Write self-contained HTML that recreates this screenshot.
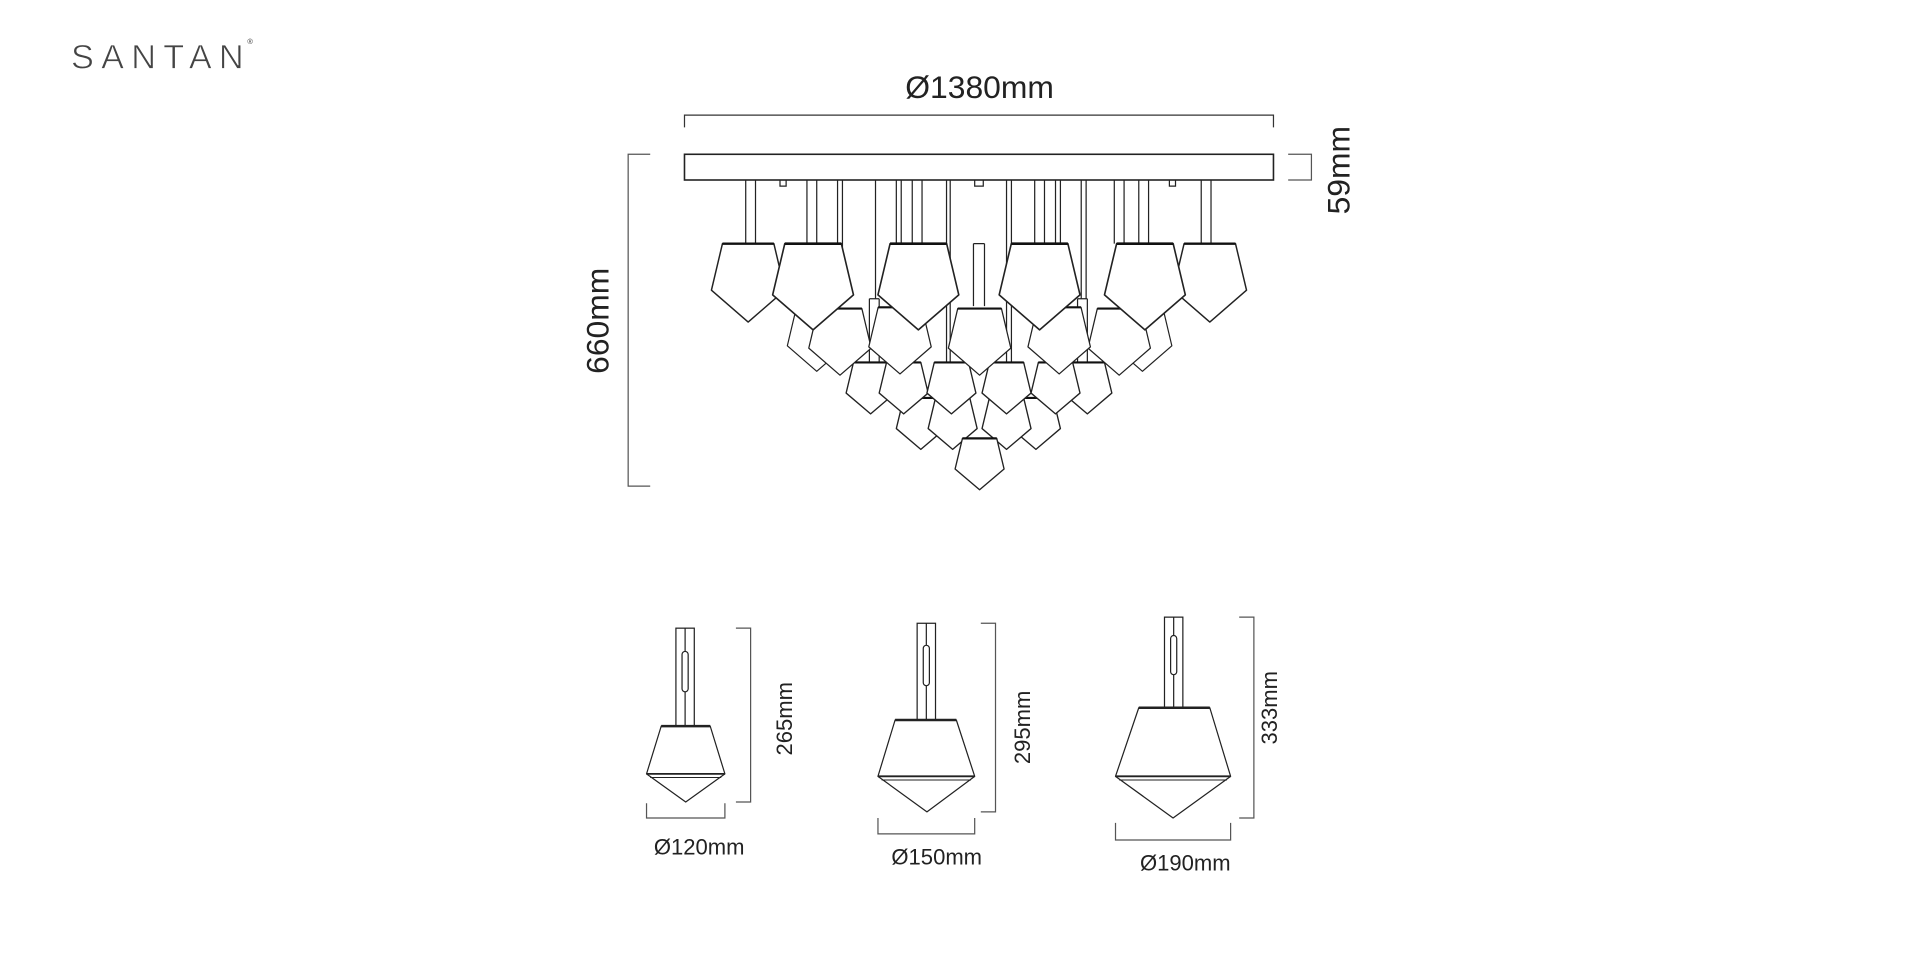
<!DOCTYPE html>
<html><head><meta charset="utf-8"><style>
html,body{margin:0;padding:0;background:#fff;width:1920px;height:960px;overflow:hidden}
svg{display:block}
text{font-family:"Liberation Sans",sans-serif;fill:#222}
</style></head><body>
<svg width="1920" height="960" viewBox="0 0 1568 784" xmlns="http://www.w3.org/2000/svg">
<defs>
<g id="pb"><path d="M-21,0 L21,0 L30,38 L0,64 L-30,38 Z" fill="#fff" stroke="#222" stroke-width="1.2" stroke-linejoin="round"/><line x1="-21" y1="0" x2="21" y2="0" stroke="#111" stroke-width="2"/></g>
<g id="ps"><path d="M-14,0 L14,0 L20,25 L0,42 L-20,25 Z" fill="#fff" stroke="#222" stroke-width="1.1" stroke-linejoin="round"/><line x1="-14" y1="0" x2="14" y2="0" stroke="#111" stroke-width="1.8"/></g>
</defs>
<text x="58" y="56" font-size="28" style="letter-spacing:1px;fill:#444;stroke:#fff;stroke-width:0.6" textLength="142">SANTAN</text>
<text x="202" y="36" font-size="6" style="fill:#333">®</text>

<text x="800" y="80" font-size="26" text-anchor="middle">Ø1380mm</text>
<path d="M559,104 V94 H1040 V104" fill="none" stroke="#333" stroke-width="1"/>
<path d="M1052,126 H1071 V147 H1052" fill="none" stroke="#555" stroke-width="1"/>
<text transform="translate(1102,139) rotate(-90)" font-size="26" text-anchor="middle">59mm</text>
<path d="M531,126 H513 V397 H531" fill="none" stroke="#555" stroke-width="1"/>
<text transform="translate(497,262) rotate(-90)" font-size="26" text-anchor="middle">660mm</text>

<g stroke="#222" stroke-width="1" fill="none">
<path d="M609,147V199M617,147V199M659,147V199M667,147V199M684,147V240M688,147V240M715,147V244M732,147V199M736,147V199M745,147V199M753,147V199M773,147V296M776,147V296M822,147V296M826,147V296M845,147V199M853,147V199M862,147V199M866,147V199M883,147V244M887,147V244M910,147V199M918,147V199M930,147V199M938,147V199M981,147V199M989,147V199M637,147V152H642V147M955,147V152H960V147M796,147V152H803V147"/>
<path d="M795,199V250M804,199V250M795,199H804"/>
<path d="M710,244V296M718,244V296M710,244H718M880,244V296M888,244V296M880,244H888"/>
</g>
<rect x="559" y="126" width="481" height="21" fill="#fff" stroke="#222" stroke-width="1.3"/>

<use href="#pb" transform="translate(667,252) scale(0.8)"/>
<use href="#pb" transform="translate(933,252) scale(0.8)"/>
<use href="#ps" transform="translate(752,325)"/>
<use href="#ps" transform="translate(846,325)"/>
<use href="#ps" transform="translate(778,325)"/>
<use href="#ps" transform="translate(822,325)"/>
<use href="#ps" transform="translate(800,358)"/>
<use href="#ps" transform="translate(711,296)"/>
<use href="#ps" transform="translate(888,296)"/>
<use href="#ps" transform="translate(738,296)"/>
<use href="#ps" transform="translate(862,296)"/>
<use href="#ps" transform="translate(777,296)"/>
<use href="#ps" transform="translate(822,296)"/>
<use href="#pb" transform="translate(686,252) scale(0.85)"/>
<use href="#pb" transform="translate(914,252) scale(0.85)"/>
<use href="#pb" transform="translate(735,251) scale(0.85)"/>
<use href="#pb" transform="translate(865,251) scale(0.85)"/>
<use href="#pb" transform="translate(800,252) scale(0.85)"/>
<use href="#pb" transform="translate(611,199)"/>
<use href="#pb" transform="translate(988,199)"/>
<use href="#pb" transform="translate(664,199) scale(1.1)"/>
<use href="#pb" transform="translate(750,199) scale(1.1)"/>
<use href="#pb" transform="translate(849,199) scale(1.1)"/>
<use href="#pb" transform="translate(935,199) scale(1.1)"/>

<g stroke="#222" stroke-width="1" fill="#fff">
<rect x="552" y="513" width="15" height="80"/><line x1="559.5" y1="513" x2="559.5" y2="593"/><rect x="557" y="532" width="5" height="33" rx="2.5"/>
<path d="M540,593 H580 L592,632 L560,655 L528,632 Z" stroke-linejoin="round"/><line x1="540" y1="593" x2="580" y2="593" stroke-width="2"/><line x1="528" y1="632" x2="592" y2="632" stroke-width="1.5"/><line x1="531" y1="635" x2="589" y2="635" stroke-width="0.8"/>

<rect x="749" y="509" width="15" height="79"/><line x1="756.5" y1="509" x2="756.5" y2="588"/><rect x="754" y="527" width="5" height="33" rx="2.5"/>
<path d="M731,588 H781 L796,634 L757,663 L717,634 Z" stroke-linejoin="round"/><line x1="731" y1="588" x2="781" y2="588" stroke-width="2"/><line x1="717" y1="634" x2="796" y2="634" stroke-width="1.5"/><line x1="720" y1="637" x2="793" y2="637" stroke-width="0.8"/>

<rect x="951" y="504" width="15" height="74"/><line x1="958.5" y1="504" x2="958.5" y2="578"/><rect x="956" y="519" width="5" height="32" rx="2.5"/>
<path d="M930,578 H988 L1005,634 L958,668 L911,634 Z" stroke-linejoin="round"/><line x1="930" y1="578" x2="988" y2="578" stroke-width="2"/><line x1="911" y1="634" x2="1005" y2="634" stroke-width="1.5"/><line x1="914" y1="637" x2="1002" y2="637" stroke-width="0.8"/>
</g>
<g stroke="#555" stroke-width="1" fill="none">
<path d="M601,513H613V655H601"/><path d="M528,656V668H592V656"/>
<path d="M801,509H813V663H801"/><path d="M717,668V681H796V668"/>
<path d="M1012,504H1024V668H1012"/><path d="M911,672V686H1005V672"/>
</g>
<g font-size="18">
<text transform="translate(647,587) rotate(-90)" text-anchor="middle">265mm</text>
<text transform="translate(841,594) rotate(-90)" text-anchor="middle">295mm</text>
<text transform="translate(1043,578) rotate(-90)" text-anchor="middle">333mm</text>
<text x="571" y="698" text-anchor="middle">Ø120mm</text>
<text x="765" y="706" text-anchor="middle">Ø150mm</text>
<text x="968" y="711" text-anchor="middle">Ø190mm</text>
</g>
</svg>
</body></html>
